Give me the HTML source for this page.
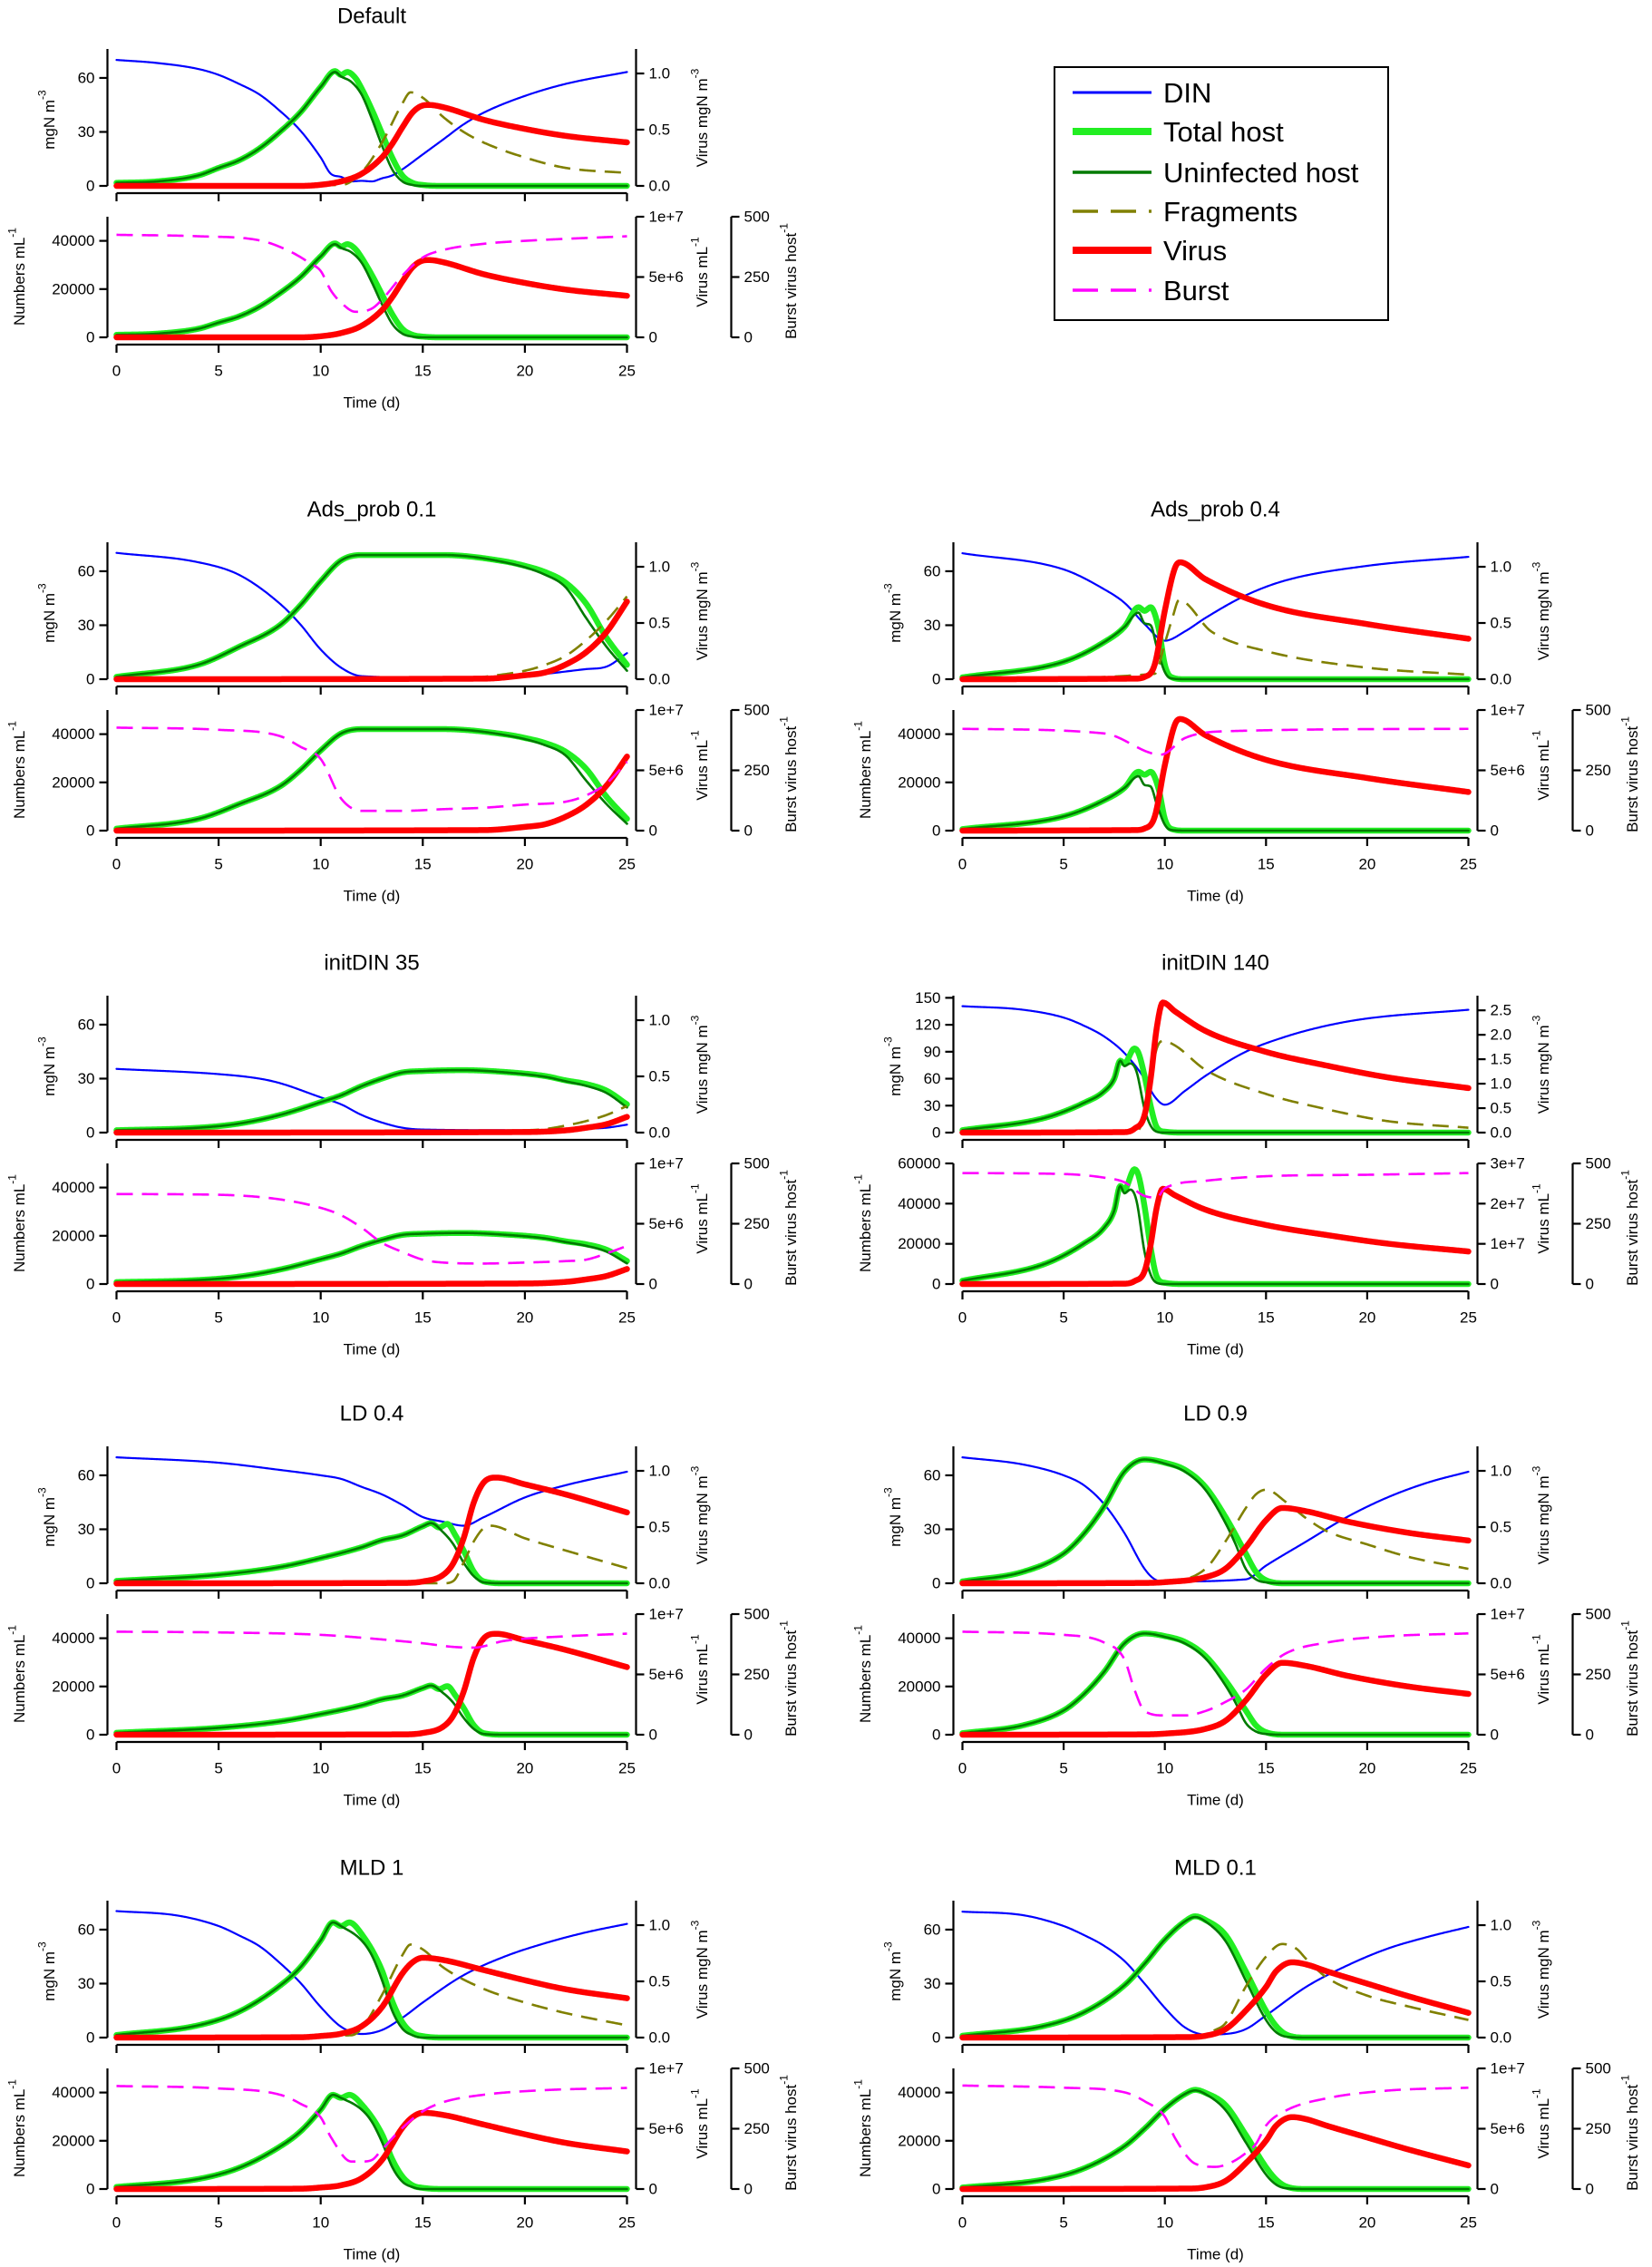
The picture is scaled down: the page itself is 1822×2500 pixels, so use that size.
<!DOCTYPE html>
<html><head><meta charset="utf-8">
<style>
html,body{margin:0;padding:0;background:#fff;}
svg{display:block;font-family:"Liberation Sans",Arial,sans-serif;}
</style></head>
<body>
<svg id="fig" width="1822" height="2500" viewBox="0 0 1822 2500" xmlns="http://www.w3.org/2000/svg">
<g>
<rect x="1163" y="74" width="368" height="279" fill="#fff" stroke="#000" stroke-width="2"/>
<g><line x1="1183" y1="102" x2="1270" y2="102" stroke="#0000ff" stroke-width="3"/><text x="1283" y="113" font-size="31">DIN</text></g>
<g><line x1="1183" y1="145" x2="1270" y2="145" stroke="#22ee22" stroke-width="8"/><text x="1283" y="156" font-size="31">Total host</text></g>
<g><line x1="1183" y1="190" x2="1270" y2="190" stroke="#007a00" stroke-width="3.5"/><text x="1283" y="201" font-size="31">Uninfected host</text></g>
<g><line x1="1183" y1="233" x2="1270" y2="233" stroke="#808000" stroke-width="3.5" stroke-dasharray="28 14"/><text x="1283" y="244" font-size="31">Fragments</text></g>
<g><line x1="1183" y1="276" x2="1270" y2="276" stroke="#ff0000" stroke-width="8"/><text x="1283" y="287" font-size="31">Virus</text></g>
<g><line x1="1183" y1="320" x2="1270" y2="320" stroke="#ff00ff" stroke-width="3.5" stroke-dasharray="28 14"/><text x="1283" y="331" font-size="31">Burst</text></g>
</g>
</svg>
<script>
// ---------- conversion constants (cells per mgN, virions per mgN) ----------
const HOST_PER_MGN = 610;
const VIRUS_PER_MGN = 8.9e6;
const xTicks = [0, 5, 10, 15, 20, 25];

// ---------- Default ----------
const def_din_t = [0,2,4,5,6,7,8,9,10,10.5,11,11.5,12,12.5,13,13.5,14,15,16,17,18,20,22,25];
const def_din   = [70,68.3,65,61.7,56.7,50.8,41.7,30.8,15.8,6.7,5,2.5,2.8,2.5,4.2,5.8,9.2,17.5,25.8,34.2,40.8,50,56.7,63.3];
const def_tot_t = [0,2,4,5,6,7,8,9,10,10.7,11,11.3,11.7,12,12.5,13,13.5,14,14.5,15,16,25];
const def_tot   = [1.7,2.5,5.8,10,14.2,20.8,30,40.8,55,63.8,61.7,63.3,60,54.2,42.5,29.2,15.8,5.8,1.7,0.5,0,0];
const def_uni_t = [0,2,4,5,6,7,8,9,10,10.7,11,11.5,12,12.5,13,13.5,14,14.5,15,25];
const def_uni   = [1.7,2.5,5.8,10,14.2,20.8,30,40.8,55,63.3,60.8,57.8,50.8,37.5,22.5,9.2,2.5,0.5,0,0];
const def_frg_t = [0,11,12,13,14,14.4,15,16,17,18,20,22,25];
const def_frg   = [0,0.5,7.5,24,45.8,52,49,38.3,30,24,15.8,10,7.2];
const def_vir_t = [0,9,10,11,12,13,13.5,14,14.5,15,15.3,16,18,20,22,25];
const def_vir   = [0,0,0.01,0.04,0.107,0.253,0.373,0.52,0.653,0.715,0.72,0.70,0.587,0.507,0.445,0.387];
const def_bst_t = [0,4,7,8.5,9.5,10,10.5,11,11.7,12.5,13,14,15,16,18,20,25];
const def_bst   = [425,419,402,356,306,275,194,144,106,119,156,256,331,362,388,400,419];

// ---------- Ads_prob 0.1 ----------
const a01_din_t = [0,4,6,8,9,10,11,12,15,19,21,23,24,25];
const a01_din   = [70.2,65,58,42,30.5,16.5,6.4,1.7,1,1.3,3,5.6,7,14.5];
const a01_tot_t = [0,4,6,8,9,10,11,12,16,19,20,21,22,23,24,25];
const a01_tot   = [1.3,8,18,30,41,54.5,66,69,69,65.5,63,59.5,53.6,42,23,8];
const a01_uni_t = [0,4,6,8,9,10,11,12,16,19,21,22,23,24,25];
const a01_uni   = [1.3,8,18,30,41,54.5,66,69,69,65,58,51,34,18,4.7];
const a01_frg_t = [0,17,18,20,21,22,23,24,25];
const a01_frg   = [0,0,1.3,4.7,8,13,21.6,32.5,46];
const a01_vir_t = [0,18,20,21,22,23,24,25];
const a01_vir   = [0,0.005,0.035,0.06,0.13,0.24,0.42,0.69];
const a01_bst_t = [0,5,8,9,10,11,12,14,16,18,20,22,23,24,25];
const a01_bst   = [427,418,392,348,297,133,82,82,89,95,108,120,146,196,285];

// ---------- Ads_prob 0.4 ----------
const a04_din_t = [0,5,7,8,9,10,11,12,14,16,20,25];
const a04_din   = [70,61,50,42.5,30.6,21.4,26.6,34,46.6,55,63,68];
const a04_tot_t = [0,5,7,8,8.7,9,9.3,9.7,10,10.3,11,25];
const a04_tot   = [1,9.7,20.6,29,40,38,40,28,8,1.3,0,0];
const a04_uni_t = [0,5,7,8,8.7,9,9.3,9.6,10,10.3,11,25];
const a04_uni   = [1,9.7,20.6,29,37,31,30,18,4,0.5,0,0];
const a04_frg_t = [0,9.5,10,10.4,10.7,12.3,15,20,25];
const a04_frg   = [0,3,20,35,44,26.5,15.6,6.4,2.5];
const a04_vir_t = [0,8.5,9,9.5,10,10.5,10.75,12,15,20,25];
const a04_vir   = [0,0.005,0.02,0.13,0.61,0.99,1.04,0.89,0.66,0.49,0.36];
const a04_bst_t = [0,7,9.8,11,13,25];
const a04_bst   = [422,403,315,384,412,422];

// ---------- initDIN 35 ----------
const d35_din_t = [0,5,7,8,10,11,12,13,14,15,20,23,24,25];
const d35_din   = [35.4,32.5,30,27.5,19.6,15.7,9.8,5.6,2.7,1.7,1.3,2.2,2.7,4.4];
const d35_tot_t = [0,4,6,8,10,11,12,13,14,15,17,19,21,22,23,24,25];
const d35_tot   = [1.3,2.7,5,9.8,16.9,20.7,25.8,30,33.4,34.2,34.7,33.7,31.4,29,27,23.3,15.7];
const d35_uni_t = [0,4,6,8,10,11,12,13,14,15,17,19,21,22,23,24,25];
const d35_uni   = [1.3,2.7,5,9.8,16.9,20.7,25.8,30,33.4,34.2,34.7,33.5,31,28.5,26,22,14];
const d35_frg_t = [0,20,21,22,23,24,25];
const d35_frg   = [0,1.3,2,3.9,6.4,9.8,14.8];
const d35_vir_t = [0,20,22,23,24,25];
const d35_vir   = [0,0.005,0.02,0.043,0.075,0.14];
const d35_bst_t = [0,5,8,10,11,12,13,14,15,16,18,20,22,23,24,25];
const d35_bst   = [373,370,351,316,285,234,171,133,101,89,85,89,95,101,127,158];

// ---------- initDIN 140 ----------
const d140_din_t = [0,3,5,6,7,8,9,9.5,10,11,12,14,16,18,20,25];
const d140_din   = [140.7,136.7,128,119,107,88.6,60,40,31,46.5,63,90,107,119,127,136.7];
const d140_tot_t = [0,4,6,7,7.5,7.8,8,8.5,8.7,9,9.3,9.6,10,11,25];
const d140_tot   = [2.7,16,33,46,60,80,77,93.6,88.6,63,29.6,6,1,0,0];
const d140_uni_t = [0,4,6,7,7.5,7.8,8,8.3,8.6,9,9.3,9.6,10,25];
const d140_uni   = [2.7,16,33,46,60,80,74,77,68,26,7.7,1,0,0];
const d140_frg_t = [0,8.5,9,9.3,9.6,9.9,10.5,12,15,18,21,25];
const d140_frg   = [0,0,19.5,60,93.6,102,97,70,43,26,12.8,5.4];
const d140_vir_t = [0,8,8.5,9,9.3,9.6,9.9,10.5,12,15,18,21,25];
const d140_vir   = [0,0.01,0.08,0.36,1.1,2.14,2.66,2.48,2.08,1.65,1.37,1.13,0.91];
const d140_bst_t = [0,5,7,8,9,9.6,10,12,15,20,25];
const d140_bst   = [460,456,441,422,365,359,397,428,447,453,460];

// ---------- LD 0.4 ----------
const ld04_din_t = [0,5,8,10,11,12,13,14,15,16,17,18,20,22,25];
const ld04_din   = [70,67,63,60,58,53.6,49.4,43.5,36.8,34.2,32,36.8,47.7,54.5,62];
const ld04_tot_t = [0,5,8,10,12,13,14,15,15.4,15.8,16.2,16.6,17,17.5,18,19,25];
const ld04_tot   = [1.3,4.7,9,14,20,24,26.6,31.7,33.4,31,33,26.6,18.2,6.4,1,0,0];
const ld04_uni_t = [0,5,8,10,12,13,14,15,15.4,16,16.5,17,17.5,18,19,25];
const ld04_uni   = [1.3,4.7,9,14,20,24,26.6,31.7,33.4,28.3,21.6,11.5,3.9,0.5,0,0];
const ld04_frg_t = [0,16,16.5,17,17.5,18,18.3,20,22,25];
const ld04_frg   = [0,0,1.3,11.5,23.3,30.9,32,25,18.2,8.4];
const ld04_vir_t = [0,14,15,16,16.5,17,17.5,18,18.6,20,22,25];
const ld04_vir   = [0,0.003,0.016,0.075,0.18,0.4,0.72,0.9,0.94,0.88,0.79,0.63];
const ld04_bst_t = [0,5,10,13,15,16.5,17.5,19,22,25];
const ld04_bst   = [427,424,414,395,379,364,361,389,408,419];

// ---------- LD 0.9 ----------
const ld09_din_t = [0,3,5,6,7,8,9,9.5,10,14,15,17,19,21,23,25];
const ld09_din   = [70,66,60,54.5,44,28,8,2.2,1,2.2,9.8,23.3,36.8,47.7,56,62];
const ld09_tot_t = [0,3,5,6,7,8,9,10,11,12,13,14,14.5,15,16,25];
const ld09_tot   = [1,6.4,16.5,27.5,42.7,62,68.8,67,63,53.6,36.8,16.5,6.4,1.7,0,0];
const ld09_uni_t = [0,3,5,6,7,8,9,10,11,12,13,13.5,14,14.5,15,16,25];
const ld09_uni   = [1,6.4,16.5,27.5,42.7,62,68.8,66.5,62,52,33.4,21.6,8,2.2,0.5,0,0];
const ld09_frg_t = [0,9,10,12,13,14,14.5,15,16,17,18,20,22,25];
const ld09_frg   = [0,0,0.5,8,23.3,41.8,49.4,52,45,36,29,21.6,14.8,8];
const ld09_vir_t = [0,9,10,12,13,14,15,15.8,17,19,22,25];
const ld09_vir   = [0,0.003,0.01,0.054,0.13,0.32,0.56,0.67,0.64,0.55,0.45,0.38];
const ld09_bst_t = [0,5,7,8,8.5,9,10,11,12,13,14,15,16,18,21,25];
const ld09_bst   = [427,414,382,313,187,98,80,80,98,136,187,275,338,382,408,420];

// ---------- MLD 1 ----------
const m1_din_t = [0,3,5,6,7,8,9,10,11,12,13,14,15,17,19,21,23,25];
const m1_din   = [70.3,67.8,62,56.8,50.8,41.5,30.5,17,6,2,4.2,11,19.5,34.7,45,52.5,58.5,63.2];
const m1_tot_t = [0,4,6,8,9,10,10.6,11,11.4,12,13,13.5,14,14.5,15,16,25];
const m1_tot   = [1.4,6.8,14.4,28.8,39,54,64,62,64,57.6,37.3,20.3,8.5,2.5,0.8,0,0];
const m1_uni_t = [0,4,6,8,9,10,10.6,11,12,12.5,13,13.5,14,14.5,15,25];
const m1_uni   = [1.4,6.8,14.4,28.8,39,54,64,61.9,54,45.8,32,15,5,1.3,0,0];
const m1_frg_t = [0,11.5,12,13,14,14.4,15,16,18,20,22,25];
const m1_frg   = [0,1.3,5,23.7,45.8,51.7,49,39,27,19.5,13.6,6.8];
const m1_vir_t = [0,9,10,11,12,13,14,14.5,15,16,18,20,22,25];
const m1_vir   = [0,0.003,0.014,0.035,0.1,0.27,0.57,0.67,0.71,0.69,0.6,0.51,0.43,0.35];
const m1_bst_t = [0,5,8,9,10,10.5,11.5,12,12.5,13,14,15,16,18,21,25];
const m1_bst   = [427,417,391,354,297,215,114,114,120,164,253,322,360,391,410,419];

// ---------- MLD 0.1 ----------
const m01_din_t = [0,3,5,6,7,8,9,10,11,12,13,14,15,17,19,21,23,25];
const m01_din   = [70,68,62,57,51,42.6,30,16.5,5.6,1.7,2,4.7,12.3,28.3,40,49.4,56,61.5];
const m01_tot_t = [0,4,6,8,9,10,11,11.5,12,13,14,15,15.5,16,17,25];
const m01_tot   = [1,6.4,14,29,41,54.5,64.6,67.4,65.4,57,36.8,14.8,6.4,1.7,0,0];
const m01_uni_t = [0,4,6,8,9,10,11,11.5,12,13,14,15,15.5,16,17,25];
const m01_uni   = [1,6.4,14,29,41,54.5,64.6,67,64.6,53.6,31.7,9.8,3,0.5,0,0];
const m01_frg_t = [0,12,12.3,13,14,15,15.8,16.5,17,18,20,22,25];
const m01_frg   = [0,0,3,8,28.3,45,52,49.4,43.5,33.4,23.3,17.4,9.8];
const m01_vir_t = [0,11,12,13,14,15,15.5,16.3,17,18,20,22,25];
const m01_vir   = [0,0.004,0.016,0.075,0.24,0.45,0.59,0.67,0.65,0.59,0.48,0.37,0.22];
const m01_bst_t = [0,5,8,9,10,10.5,11.5,12.5,13.3,14,14.5,15,16,18,21,25];
const m01_bst   = [429,420,401,364,300,212,105,92,111,149,187,263,326,376,408,420];

// ---------- tick labels ----------
const upLeftTicks = [0, 30, 60];
const upLeftTicksBig = [0, 30, 60, 90, 120, 150];
const upRightTicks = [0, 0.5, 1.0];
const upRightTicksBig = [0, 0.5, 1.0, 1.5, 2.0, 2.5];
const lowLeftTicks = [0, 20000, 40000];
const lowLeftTicksBig = [0, 20000, 40000, 60000];
const virusTicks = [0, 5e6, 1e7];
const virusTickLabels = ["0", "5e+6", "1e+7"];
const virusTicksBig = [0, 1e7, 2e7, 3e7];
const virusTickLabelsBig = ["0", "1e+7", "2e+7", "3e+7"];
const burstTicks = [0, 250, 500];

const NS = "http://www.w3.org/2000/svg";
const fig = document.getElementById("fig");
function mk(tag, attrs, parent){
  const e = document.createElementNS(NS, tag);
  for (const k in attrs) e.setAttribute(k, attrs[k]);
  parent.appendChild(e);
  return e;
}
function mono(xs, ys){
  const n = xs.length, d = [], m = [];
  for (let i=0;i<n-1;i++) d.push((ys[i+1]-ys[i])/(xs[i+1]-xs[i]));
  m[0]=d[0]; m[n-1]=d[n-2];
  for (let i=1;i<n-1;i++) m[i] = (d[i-1]*d[i] <= 0) ? 0 : (d[i-1]+d[i])/2;
  for (let i=0;i<n-1;i++){
    if (d[i]===0){ m[i]=0; m[i+1]=0; continue; }
    const a=m[i]/d[i], b=m[i+1]/d[i], s=a*a+b*b;
    if (s>9){ const t=3/Math.sqrt(s); m[i]=t*a*d[i]; m[i+1]=t*b*d[i]; }
  }
  return function(x){
    if (x<=xs[0]) return ys[0];
    if (x>=xs[n-1]) return ys[n-1];
    let i=0; while (x>xs[i+1]) i++;
    const h=xs[i+1]-xs[i], t=(x-xs[i])/h, t2=t*t, t3=t2*t;
    return (2*t3-3*t2+1)*ys[i] + (t3-2*t2+t)*h*m[i] + (-2*t3+3*t2)*ys[i+1] + (t3-t2)*h*m[i+1];
  };
}
function pathFor(ts, vs, factor, sx, sy){
  const f = mono(ts, vs);
  let d = "";
  for (let k=0;k<=500;k++){
    const t = k*0.05;
    const v = Math.max(0, f(t))*factor;
    d += (k?"L":"M") + sx(t).toFixed(2) + " " + sy(v).toFixed(2);
  }
  return d;
}

const panels = [
  {key:"def", title:"Default", col:0, U:205, big:false,
   din:[def_din_t,def_din], tot:[def_tot_t,def_tot], uni:[def_uni_t,def_uni], frg:[def_frg_t,def_frg], vir:[def_vir_t,def_vir], bst:[def_bst_t,def_bst]},
  {key:"ads-prob-0-1", title:"Ads_prob 0.1", col:0, U:749, big:false,
   din:[a01_din_t,a01_din], tot:[a01_tot_t,a01_tot], uni:[a01_uni_t,a01_uni], frg:[a01_frg_t,a01_frg], vir:[a01_vir_t,a01_vir], bst:[a01_bst_t,a01_bst]},
  {key:"ads-prob-0-4", title:"Ads_prob 0.4", col:1, U:749, big:false,
   din:[a04_din_t,a04_din], tot:[a04_tot_t,a04_tot], uni:[a04_uni_t,a04_uni], frg:[a04_frg_t,a04_frg], vir:[a04_vir_t,a04_vir], bst:[a04_bst_t,a04_bst]},
  {key:"initdin-35", title:"initDIN 35", col:0, U:1249, big:false,
   din:[d35_din_t,d35_din], tot:[d35_tot_t,d35_tot], uni:[d35_uni_t,d35_uni], frg:[d35_frg_t,d35_frg], vir:[d35_vir_t,d35_vir], bst:[d35_bst_t,d35_bst]},
  {key:"initdin-140", title:"initDIN 140", col:1, U:1249, big:true,
   din:[d140_din_t,d140_din], tot:[d140_tot_t,d140_tot], uni:[d140_uni_t,d140_uni], frg:[d140_frg_t,d140_frg], vir:[d140_vir_t,d140_vir], bst:[d140_bst_t,d140_bst]},
  {key:"ld-0-4", title:"LD 0.4", col:0, U:1746, big:false,
   din:[ld04_din_t,ld04_din], tot:[ld04_tot_t,ld04_tot], uni:[ld04_uni_t,ld04_uni], frg:[ld04_frg_t,ld04_frg], vir:[ld04_vir_t,ld04_vir], bst:[ld04_bst_t,ld04_bst]},
  {key:"ld-0-9", title:"LD 0.9", col:1, U:1746, big:false,
   din:[ld09_din_t,ld09_din], tot:[ld09_tot_t,ld09_tot], uni:[ld09_uni_t,ld09_uni], frg:[ld09_frg_t,ld09_frg], vir:[ld09_vir_t,ld09_vir], bst:[ld09_bst_t,ld09_bst]},
  {key:"mld-1", title:"MLD 1", col:0, U:2247, big:false,
   din:[m1_din_t,m1_din], tot:[m1_tot_t,m1_tot], uni:[m1_uni_t,m1_uni], frg:[m1_frg_t,m1_frg], vir:[m1_vir_t,m1_vir], bst:[m1_bst_t,m1_bst]},
  {key:"mld-0-1", title:"MLD 0.1", col:1, U:2247, big:false,
   din:[m01_din_t,m01_din], tot:[m01_tot_t,m01_tot], uni:[m01_uni_t,m01_uni], frg:[m01_frg_t,m01_frg], vir:[m01_vir_t,m01_vir], bst:[m01_bst_t,m01_bst]}
];

const FS = 17;
function txt(parent, x, y, s, anchor, size, rot){
  const e = mk("text", {x:x, y:y, "font-size":size||FS, "text-anchor":anchor||"middle", "dominant-baseline":"central"}, parent);
  if (rot) e.setAttribute("transform", "rotate(-90 "+x+" "+y+")");
  e.innerHTML = s;
  return e;
}
const SUP = (s)=>'<tspan dy="-8" font-size="12">'+s+'</tspan>';

panels.forEach(p => {
  const x0 = p.col===0 ? 128.5 : 1061.5, x1 = p.col===0 ? 691.5 : 1619.5;
  const U = p.U, L = U + 167;
  const HU = 151, HL = 133;
  const axL = x0 - 10, axR = x1 + 10, axB = axR + 105;
  const sx = t => x0 + (x1 - x0) * t / 25;
  const upLMax = p.big ? 152.4 : 76.1;
  const upRMax = p.big ? 2.8 : 1.218;
  const loLMax = p.big ? 60000 : 50000;
  const loRMax = p.big ? 3e7 : 1e7;
  const syUL = v => U - HU * v / upLMax;
  const syUR = v => U - HU * v / upRMax;
  const syLL = v => L - HL * v / loLMax;
  const syLR = v => L - HL * v / loRMax;
  const syLB = v => L - HL * v / 500;

  const g = mk("g", {}, fig);
  
  

  const tt = txt(g, (x0+x1)/2, U-187, p.title, "middle", 24);
  
  

  // ----- axes -----
  const ax = mk("g", {stroke:"#000", "stroke-width":2.2, fill:"none"}, g);
  
  
  const tl = mk("g", {fill:"#000"}, g);
  
  

  // upper left
  mk("line", {x1:axL, y1:U, x2:axL, y2:U-HU}, ax);
  (p.big ? upLeftTicksBig : upLeftTicks).forEach(v => {
    mk("line", {x1:axL-9, y1:syUL(v), x2:axL, y2:syUL(v)}, ax);
    txt(tl, axL-14, syUL(v), String(v), "end");
  });
  // upper right
  mk("line", {x1:axR, y1:U, x2:axR, y2:U-HU}, ax);
  (p.big ? upRightTicksBig : upRightTicks).forEach(v => {
    mk("line", {x1:axR, y1:syUR(v), x2:axR+9, y2:syUR(v)}, ax);
    txt(tl, axR+14, syUR(v), v.toFixed(1), "start");
  });
  // upper x axis bar
  mk("line", {x1:x0, y1:U+8, x2:x1, y2:U+8}, ax);
  xTicks.forEach(t => mk("line", {x1:sx(t), y1:U+8, x2:sx(t), y2:U+17}, ax));
  // lower left
  mk("line", {x1:axL, y1:L, x2:axL, y2:L-HL}, ax);
  (p.big ? lowLeftTicksBig : lowLeftTicks).forEach(v => {
    mk("line", {x1:axL-9, y1:syLL(v), x2:axL, y2:syLL(v)}, ax);
    txt(tl, axL-14, syLL(v), String(v), "end");
  });
  // lower right virus
  mk("line", {x1:axR, y1:L, x2:axR, y2:L-HL}, ax);
  const vt = p.big ? virusTicksBig : virusTicks, vl = p.big ? virusTickLabelsBig : virusTickLabels;
  vt.forEach((v,i) => {
    mk("line", {x1:axR, y1:syLR(v), x2:axR+9, y2:syLR(v)}, ax);
    txt(tl, axR+14, syLR(v), vl[i], "start");
  });
  // burst axis
  mk("line", {x1:axB, y1:L, x2:axB, y2:L-HL}, ax);
  burstTicks.forEach(v => {
    mk("line", {x1:axB, y1:syLB(v), x2:axB+9, y2:syLB(v)}, ax);
    txt(tl, axB+14, syLB(v), String(v), "start");
  });
  // lower x axis
  mk("line", {x1:x0, y1:L+8, x2:x1, y2:L+8}, ax);
  xTicks.forEach(t => {
    mk("line", {x1:sx(t), y1:L+8, x2:sx(t), y2:L+17}, ax);
    txt(tl, sx(t), L+37, String(t), "middle");
  });

  // axis titles
  let e;
  e = txt(g, axL-64, U-73, "mgN m"+SUP("-3"), "middle", FS, true);
  
  
  e = txt(g, axR+73, U-75, "Virus mgN m"+SUP("-3"), "middle", FS, true);
  
  
  e = txt(g, axL-97, L-67, "Numbers mL"+SUP("-1"), "middle", FS, true);
  
  
  e = txt(g, axR+73, L-72, "Virus mL"+SUP("-1"), "middle", FS, true);
  
  
  e = txt(g, axB+66, L-62, "Burst virus host"+SUP("-1"), "middle", FS, true);
  
  
  e = txt(g, (x0+x1)/2, L+72, "Time (d)", "middle", FS);
  
  

  // ----- upper series -----
  const up = mk("g", {fill:"none", "stroke-linejoin":"round", "stroke-linecap":"round"}, g);
  
  
  let s;
  s = mk("path", {d:pathFor(p.din[0], p.din[1], 1, sx, syUL), stroke:"#0000ff", "stroke-width":2.2}, up);
  
  
  s = mk("path", {d:pathFor(p.tot[0], p.tot[1], 1, sx, syUL), stroke:"#22ee22", "stroke-width":6.5}, up);
  
  
  s = mk("path", {d:pathFor(p.uni[0], p.uni[1], 1, sx, syUL), stroke:"#007a00", "stroke-width":2.6}, up);
  
  
  s = mk("path", {d:pathFor(p.frg[0], p.frg[1], 1, sx, syUL), stroke:"#808000", "stroke-width":2.6, "stroke-dasharray":"18 10", "stroke-linecap":"butt"}, up);
  
  
  s = mk("path", {d:pathFor(p.vir[0], p.vir[1], 1, sx, syUR), stroke:"#ff0000", "stroke-width":6.5}, up);
  
  

  // ----- lower series -----
  const lo = mk("g", {fill:"none", "stroke-linejoin":"round", "stroke-linecap":"round"}, g);
  
  
  s = mk("path", {d:pathFor(p.tot[0], p.tot[1], HOST_PER_MGN, sx, syLL), stroke:"#22ee22", "stroke-width":6.5}, lo);
  
  
  s = mk("path", {d:pathFor(p.uni[0], p.uni[1], HOST_PER_MGN, sx, syLL), stroke:"#007a00", "stroke-width":2.6}, lo);
  
  
  s = mk("path", {d:pathFor(p.vir[0], p.vir[1], VIRUS_PER_MGN, sx, syLR), stroke:"#ff0000", "stroke-width":6.5}, lo);
  
  
  s = mk("path", {d:pathFor(p.bst[0], p.bst[1], 1, sx, syLB), stroke:"#ff00ff", "stroke-width":2.6, "stroke-dasharray":"18 10", "stroke-linecap":"butt"}, lo);
  
  
});
</script>
</body></html>
